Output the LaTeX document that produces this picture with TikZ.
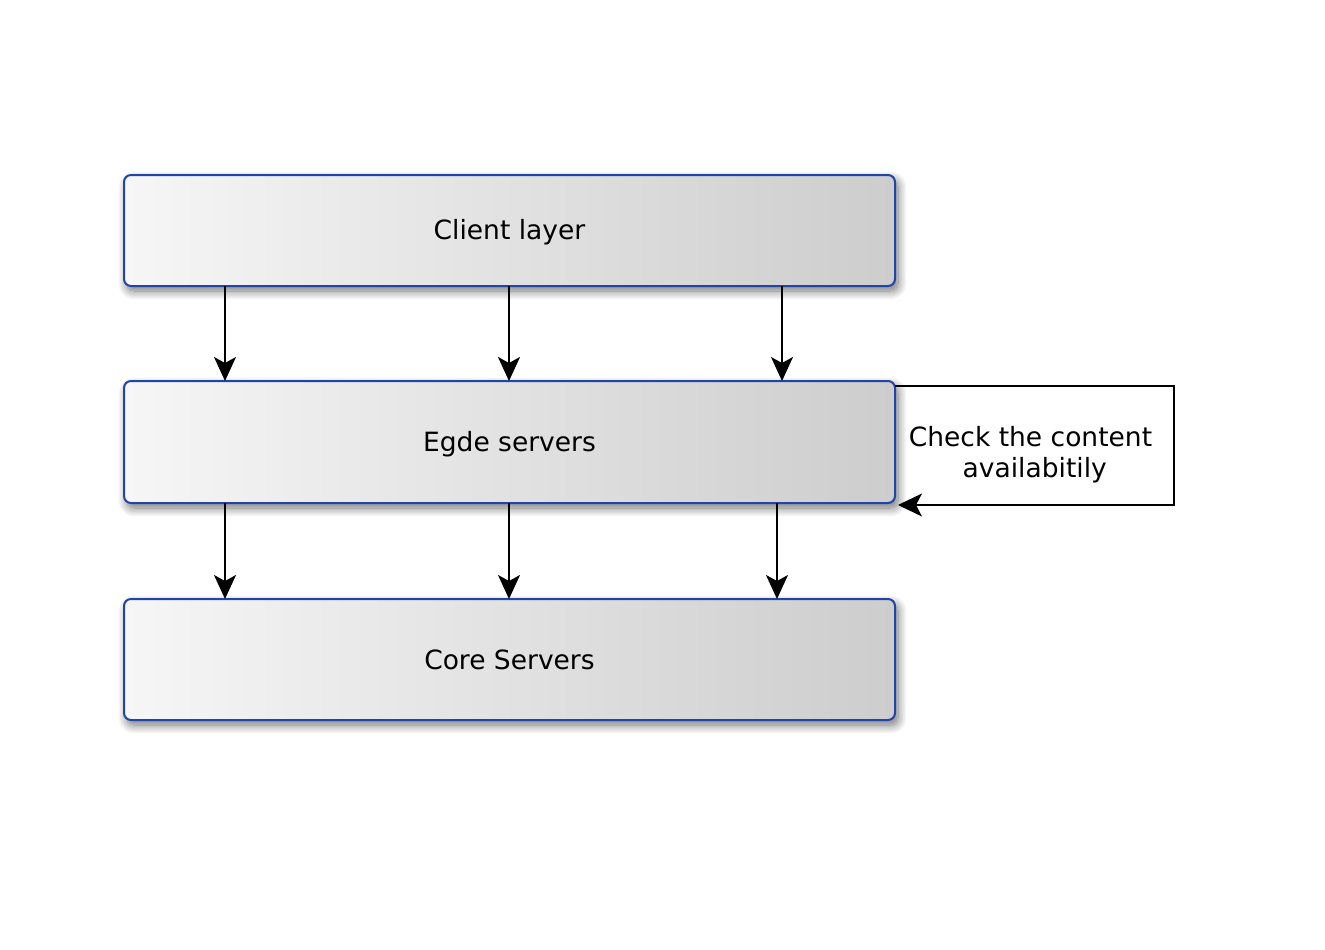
\documentclass[tikz,border=0pt]{standalone}
\usepackage{fontspec}
\setmainfont{DejaVu Sans}
\usetikzlibrary{arrows.meta,shadows.blur,calc}
\definecolor{boxblue}{HTML}{2144A8}
\definecolor{shadeL}{HTML}{F6F6F6}
\definecolor{shadeR}{HTML}{CDCDCD}
\tikzset{
  layer/.style={draw=boxblue, line width=2pt, rounded corners=7pt,
    left color=shadeL, right color=shadeR, minimum width=771pt,
    inner sep=0pt, outer sep=0pt,
    blur shadow={shadow xshift=3pt, shadow yshift=-5pt, shadow blur steps=12, shadow opacity=55, shadow blur radius=9pt},
    font=\fontsize{26.5}{31}\selectfont},
  lowtext/.style={text height=22pt, text depth=4pt},
  flow/.style={line width=1.7pt, -{Stealth[length=24pt,width=22pt,inset=6pt]}},
  loop/.style={line width=1.5pt, -{Stealth[length=24pt,width=23pt,inset=6pt]}},
  note/.style={font=\fontsize{26.5}{31}\selectfont, align=center, inner sep=0pt}
}
\begin{document}
\begin{tikzpicture}[x=1pt,y=-1pt]
\useasboundingbox (0,0) rectangle (1325,950);
\node[layer, lowtext, minimum height=111pt] (client) at (509.5,230.5) {Client layer};
\node[layer, lowtext, minimum height=122pt] (edge) at (509.5,442) {Egde servers};
\node[layer, minimum height=121pt] (core) at (509.5,659.5) {Core Servers};
% client -> edge
\draw[flow] ([xshift=101pt]client.south west) -- ([xshift=101pt]edge.north west);
\draw[flow, line width=2.3pt] ([xshift=385pt]client.south west) -- ([xshift=385pt]edge.north west);
\draw[flow] ([xshift=658pt]client.south west) -- ([xshift=658pt]edge.north west);
% edge -> core
\draw[flow] ([xshift=101pt]edge.south west) -- ([xshift=101pt]core.north west);
\draw[flow] ([xshift=385pt]edge.south west) -- ([xshift=385pt]core.north west);
\draw[flow] ([xshift=653pt]edge.south west) -- ([xshift=653pt]core.north west);
% feedback loop
\coordinate (loopout) at ([yshift=-5pt]edge.north east);
\coordinate (loopin) at ([xshift=3pt,yshift=-2pt]edge.south east);
\draw[loop] (loopout) -- ++(279,0) coordinate (loopcorner) |- (loopin);
\node[note] (check) at (1030.5,455) {Check the content\\\ availabitily};
\end{tikzpicture}
\end{document}
